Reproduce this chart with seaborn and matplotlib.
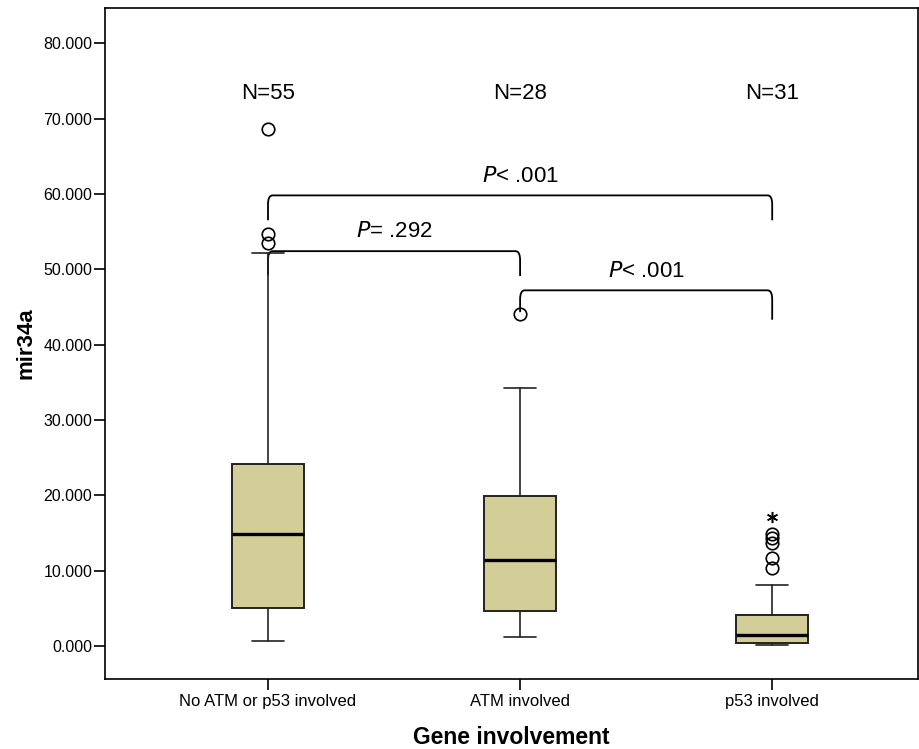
import numpy as np
import matplotlib
matplotlib.use("Agg")
import matplotlib.pyplot as plt
from matplotlib.path import Path
from matplotlib.patches import PathPatch
import seaborn as sns

# Group names and summary statistics of mir34a expression
groups = ["No ATM or p53 involved", "ATM involved", "p53 involved"]
n_counts = [55, 28, 31]
q1 = [5.05, 4.65, 0.40]
medians = [14.85, 11.45, 1.45]
q3 = [24.15, 19.90, 4.10]
whisker_low = [0.66, 1.19, 0.13]
whisker_high = [52.2, 34.3, 8.05]
outliers = [[53.45, 54.7, 68.6], [44.05], [10.35, 11.65, 13.65, 14.35, 14.85]]
extremes = [[], [], [17.1]]

# Pairwise comparisons: (group a, group b, bar level, leg end a, leg end b, label)
comparisons = [
    (0, 2, 59.8, 56.5, 56.5, "< .001"),
    (0, 1, 52.4, 49.2, 49.1, "= .292"),
    (1, 2, 47.2, 44.3, 43.3, "< .001"),
]

sns.set_theme(style="white")
plt.rcParams["font.family"] = ["Liberation Sans", "DejaVu Sans"]
plt.rcParams["text.color"] = "black"
plt.rcParams["axes.labelcolor"] = "black"
plt.rcParams["xtick.color"] = "black"
plt.rcParams["ytick.color"] = "black"

fig = plt.figure(figsize=(9.2, 7.49), dpi=100)
ax = fig.add_axes([0.114, 0.0935, 0.884, 0.8955])

positions = np.arange(len(groups))
stats = []
for i, g in enumerate(groups):
    stats.append(dict(label=g, med=medians[i], q1=q1[i], q3=q3[i],
                      whislo=whisker_low[i], whishi=whisker_high[i],
                      fliers=outliers[i]))

ax.bxp(stats, positions=positions, widths=0.285, patch_artist=True,
       capwidths=0.125,
       boxprops=dict(facecolor="#D3CE97", edgecolor="#222222", linewidth=1.4),
       medianprops=dict(color="black", linewidth=2.4, solid_capstyle="butt"),
       whiskerprops=dict(color="#222222", linewidth=1.2),
       capprops=dict(color="#222222", linewidth=1.2),
       flierprops=dict(marker="o", markerfacecolor="none", markeredgecolor="black",
                       markersize=9, markeredgewidth=1.2, linestyle="none"),
       zorder=3)

for i, ext in enumerate(extremes):
    if ext:
        ax.plot([positions[i]] * len(ext), ext, linestyle="none", marker=(6, 2, 0),
                markersize=8, markeredgewidth=1.1, color="black", zorder=4)

# Sample sizes above each group
for i, n in enumerate(n_counts):
    ax.text(positions[i], 73.3, f"N={n}", ha="center", va="center", fontsize=16)

# Comparison brackets with softly rounded corners
def bracket(a, b, level, end_a, end_b, label):
    xa, xb = positions[a], positions[b]
    dx, dy = 0.018, 1.2
    verts = [(xa, end_a), (xa, level - dy), (xa, level), (xa + dx, level),
             (xb - dx, level), (xb, level), (xb, level - dy), (xb, end_b)]
    codes = [Path.MOVETO, Path.LINETO, Path.CURVE3, Path.CURVE3,
             Path.LINETO, Path.CURVE3, Path.CURVE3, Path.LINETO]
    ax.add_patch(PathPatch(Path(verts, codes), facecolor="none",
                           edgecolor="black", linewidth=1.3, zorder=2))
    ax.text((xa + xb) / 2, level + 2.55, "$\\it{P}$" + label, ha="center",
            va="center", fontsize=16)

for comp in comparisons:
    bracket(*comp)

ax.set_xlim(-0.647, 2.579)
ax.set_ylim(-4.38, 84.64)
ax.set_yticks(np.arange(0, 81, 10))
ax.set_yticklabels([f"{v:.3f}" for v in np.arange(0, 81, 10)], fontsize=11.5)
ax.set_xticks(positions)
ax.set_xticklabels(groups, fontsize=12)
ax.tick_params(axis="both", direction="out", length=8, width=1.2, color="black",
               bottom=True, left=True, pad=1)
ax.tick_params(axis="x", pad=3)

for side in ax.spines.values():
    side.set_color("black")
    side.set_linewidth(1.2)

ax.set_ylabel("mir34a", fontsize=16, fontweight="bold", labelpad=5)
ax.set_xlabel("Gene involvement", fontsize=16.5, fontweight="bold", labelpad=12)

fig.savefig("out.png", dpi=100)
